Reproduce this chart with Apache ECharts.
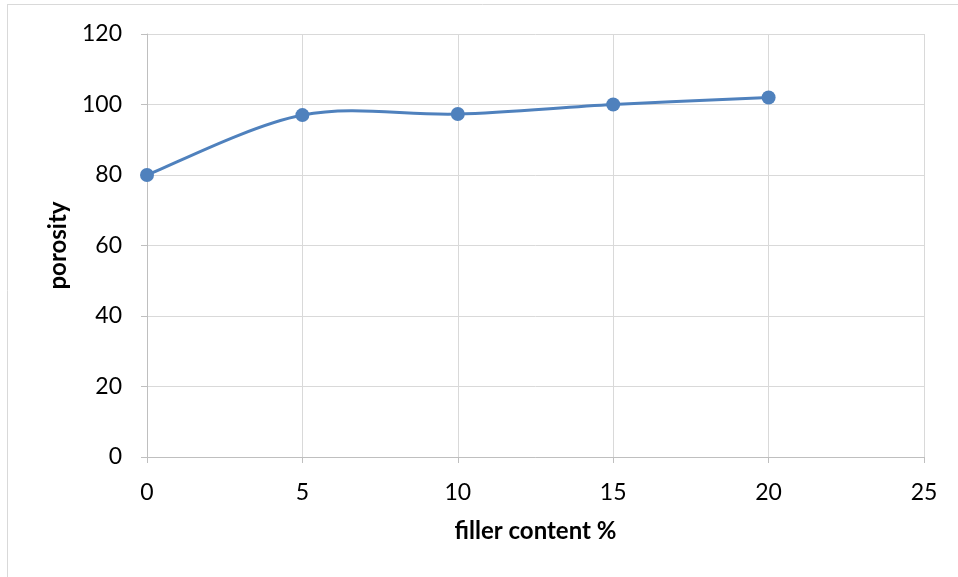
<!DOCTYPE html>
<html><head><meta charset="utf-8">
<script src="https://cdn.jsdelivr.net/npm/echarts@6/dist/echarts.min.js"></script>
<style>html,body{margin:0;padding:0;background:#fff}#c{width:958px;height:577px}</style>
</head><body><div id="c"></div>
<script>
const fillerContent = [0, 5, 10, 15, 20];
const porosity = [80, 97, 97.3, 100, 102];
const xTicks = [0, 5, 10, 15, 20, 25];
const yTicks = [0, 20, 40, 60, 80, 100, 120];

const chart = echarts.init(document.getElementById('c'), null, {renderer: 'canvas'});
const font = 'Lato, "Open Sans", sans-serif';
const blue = '#4f81bd';
const points = fillerContent.map((x, i) => [x, porosity[i]]);
const n = points.length;

function renderSmooth(params, api) {
  const i = params.dataIndex;
  if (i >= n - 1) return null;
  const c = k => {
    const j = Math.max(0, Math.min(n - 1, k));
    return api.coord(points[j]);
  };
  const P0 = c(i - 1), P1 = c(i), P2 = c(i + 1), P3 = c(i + 2);
  return {
    type: 'bezierCurve',
    shape: {
      x1: P1[0], y1: P1[1], x2: P2[0], y2: P2[1],
      cpx1: P1[0] + (P2[0] - P0[0]) / 6, cpy1: P1[1] + (P2[1] - P0[1]) / 6,
      cpx2: P2[0] - (P3[0] - P1[0]) / 6, cpy2: P2[1] - (P3[1] - P1[1]) / 6
    },
    style: {stroke: blue, lineWidth: 3, fill: null, lineCap: 'round'}
  };
}

chart.setOption({
  animation: false,
  backgroundColor: '#fff',
  graphic: [
    {type: 'line', shape: {x1: 7, y1: 4.5, x2: 958, y2: 4.5}, style: {stroke: '#d9d9d9', lineWidth: 1}},
    {type: 'line', shape: {x1: 7.5, y1: 4, x2: 7.5, y2: 577}, style: {stroke: '#d9d9d9', lineWidth: 1}}
  ],
  grid: {left: 147, right: 34, top: 34, bottom: 120, containLabel: false},
  xAxis: {
    type: 'value', min: xTicks[0], max: xTicks[xTicks.length - 1], interval: 5,
    name: 'filler content %', nameLocation: 'middle', nameGap: 62,
    nameTextStyle: {fontFamily: font, fontSize: 24, fontWeight: 'bold', color: '#000'},
    axisLine: {show: true, lineStyle: {color: '#bfbfbf', width: 1}},
    axisTick: {show: true, length: 6, lineStyle: {color: '#bfbfbf'}},
    axisLabel: {fontFamily: font, fontSize: 23, color: '#000', margin: 24},
    splitLine: {show: true, lineStyle: {color: '#d9d9d9', width: 1}}
  },
  yAxis: {
    type: 'value', min: yTicks[0], max: yTicks[yTicks.length - 1], interval: 20,
    name: 'porosity', nameLocation: 'middle', nameGap: 77, nameRotate: 90,
    nameTextStyle: {fontFamily: font, fontSize: 24, fontWeight: 'bold', color: '#000'},
    axisLine: {show: true, lineStyle: {color: '#bfbfbf', width: 1}},
    axisTick: {show: true, length: 6, lineStyle: {color: '#bfbfbf'}},
    axisLabel: {fontFamily: font, fontSize: 23, color: '#000', margin: 25},
    splitLine: {show: true, lineStyle: {color: '#d9d9d9', width: 1}}
  },
  series: [
    {type: 'custom', data: points, renderItem: renderSmooth, clip: false, z: 2},
    {type: 'scatter', data: points, symbol: 'circle', symbolSize: 14, itemStyle: {color: blue, opacity: 1}, z: 3}
  ]
});
</script></body></html>
